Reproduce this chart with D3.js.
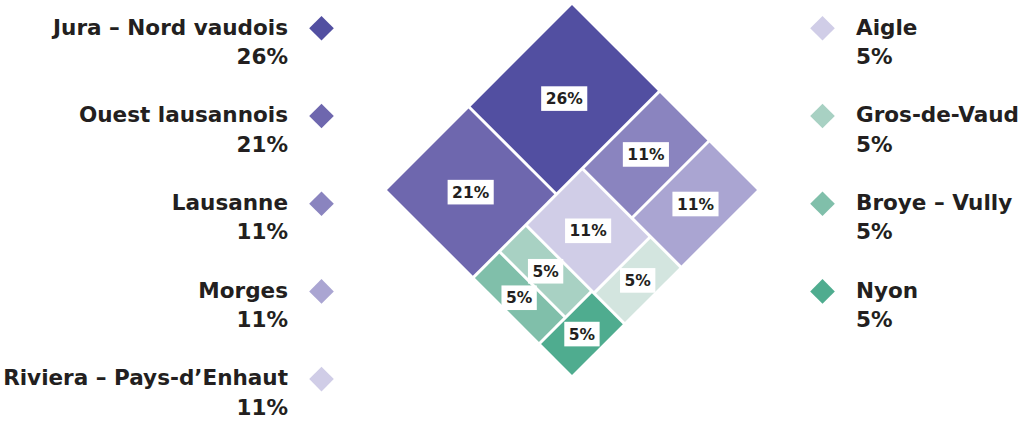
<!DOCTYPE html>
<html>
<head>
<meta charset="utf-8">
<script src="https://cdn.jsdelivr.net/npm/d3@7"></script>
<style>
  html, body { margin: 0; padding: 0; background: #ffffff; }
  svg { display: block; }
  text { font-family: "DejaVu Sans", "Noto Sans", sans-serif; font-weight: 700; fill: #231f20; }
</style>
</head>
<body>
<svg id="chart" width="1019" height="421"></svg>
<script>
// ---- data ----
const categories = ["Jura – Nord vaudois", "Ouest lausannois", "Lausanne", "Morges",
  "Riviera – Pays-d’Enhaut", "Aigle", "Gros-de-Vaud", "Broye – Vully", "Nyon"];
const values = [26, 21, 11, 11, 11, 5, 5, 5, 5];
const tileColors = ["#524fa1", "#6e67ae", "#8a84bf", "#aaa5d2", "#d0cde7",
  "#d3e5df", "#a8d1c3", "#80bfaa", "#4fac8f"];
const legendColors = ["#524fa1", "#6e67ae", "#8a84bf", "#aaa5d2", "#d0cde7",
  "#d0cde7", "#a8d1c3", "#80bfaa", "#4fac8f"];
const leftLegend = [0, 1, 2, 3, 4];
const rightLegend = [5, 6, 7, 8];

// ---- layout ----
const svg = d3.select("#chart");
const side = 261.6;             // side of the rotated square
const apex = { x: 572, y: 5 };  // top vertex of the diamond
const c45 = Math.SQRT1_2;

const rows = categories.map((name, i) => ({ name, value: values[i], i }));
const root = d3.hierarchy({ children: rows }).sum(d => d.value || 0);
d3.treemap().tile(d3.treemapSquarify.ratio(1.4)).size([side, side]).paddingInner(3)(root);
const leaves = root.leaves();

const g = svg.append("g").attr("transform", `translate(${apex.x},${apex.y}) rotate(45)`);
g.selectAll("rect").data(leaves).join("rect")
  .attr("x", d => d.x0).attr("y", d => d.y0)
  .attr("width", d => d.x1 - d.x0).attr("height", d => d.y1 - d.y0)
  .attr("fill", d => tileColors[d.data.i]);

// legend font size fitted so that the first label is ~235px wide
const probe = svg.append("text").style("font-size", "20px").text(categories[0]);
const fs = Math.max(17, Math.min(22, 20 * 235 / probe.node().getComputedTextLength()));
probe.remove();

const fmt = v => v + "%";
const labels = svg.append("g");
leaves.forEach(d => {
  const cu = (d.x0 + d.x1) / 2, cv = (d.y0 + d.y1) / 2;
  const sx = apex.x + (cu - cv) * c45, sy = apex.y + (cu + cv) * c45;
  const lg = labels.append("g").attr("transform", `translate(${sx},${sy})`);
  const t = lg.append("text").attr("text-anchor", "middle").attr("dy", "0.36em")
    .style("font-size", "15.5px").text(fmt(d.data.value));
  const w = t.node().getComputedTextLength();
  lg.insert("rect", "text").attr("x", -w / 2 - 4.5).attr("y", -12.3)
    .attr("width", w + 9).attr("height", 24.6).attr("fill", "#ffffff");
});

// ---- legends ----
const step = 87.7, base0 = 34.5, line2 = 29.5;
function diamond(sel, cx, cy, color) {
  sel.append("rect").attr("x", -8.7).attr("y", -8.7).attr("width", 17.4).attr("height", 17.4)
    .attr("transform", `translate(${cx},${cy}) rotate(45)`).attr("fill", color);
}
const L = svg.append("g");
leftLegend.forEach((k, j) => {
  const b = base0 + j * step;
  L.append("text").attr("x", 288).attr("y", b).attr("text-anchor", "end")
    .style("font-size", fs + "px").text(categories[k]);
  L.append("text").attr("x", 288).attr("y", b + line2).attr("text-anchor", "end")
    .style("font-size", fs + "px").text(fmt(values[k]));
  diamond(L, 321.5, b - 6.2, legendColors[k]);
});
const R = svg.append("g");
rightLegend.forEach((k, j) => {
  const b = base0 + j * step;
  R.append("text").attr("x", 856).attr("y", b).attr("text-anchor", "start")
    .style("font-size", fs + "px").text(categories[k]);
  R.append("text").attr("x", 856).attr("y", b + line2).attr("text-anchor", "start")
    .style("font-size", fs + "px").text(fmt(values[k]));
  diamond(R, 822.5, b - 6.2, legendColors[k]);
});
</script>
</body>
</html>
